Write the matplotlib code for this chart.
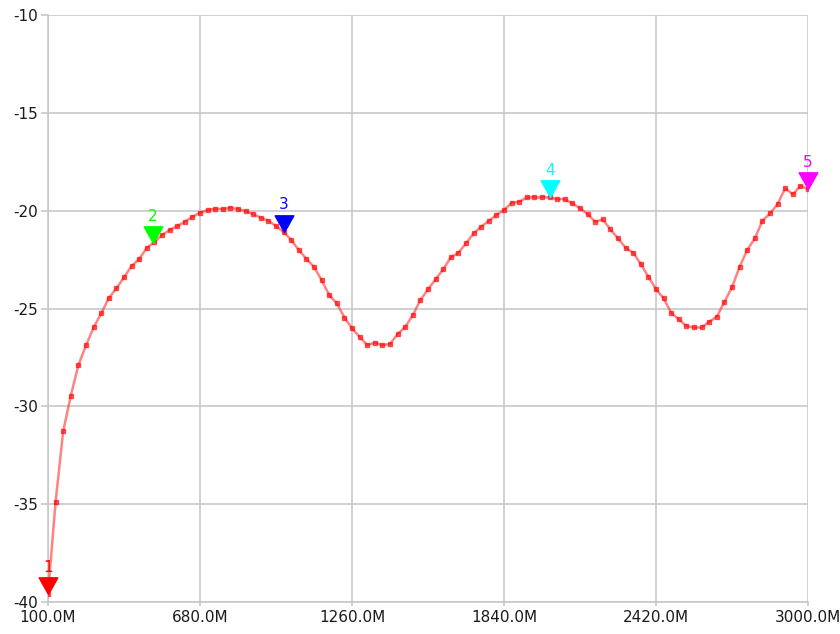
import numpy as np
import matplotlib
matplotlib.use("Agg")
import matplotlib.pyplot as plt
from matplotlib.path import Path

plt.rcParams['axes.unicode_minus'] = False
plt.rcParams['font.family'] = ['DejaVu Sans']

# frequency sweep, MHz (101 points, 100M .. 3000M)
freq_mhz = np.linspace(100, 3000, 101)

level_db = [
    -39.6, -34.88, -31.27, -29.46, -27.89, -26.89, -25.97, -25.25, -24.47, -23.97,
    -23.41, -22.83, -22.47, -21.90, -21.60, -21.25, -20.99, -20.79, -20.57, -20.31,
    -20.11, -19.97, -19.90, -19.92, -19.85, -19.92, -20.02, -20.17, -20.36, -20.52,
    -20.79, -21.08, -21.50, -22.01, -22.47, -22.87, -23.55, -24.31, -24.74, -25.46,
    -26.02, -26.45, -26.87, -26.75, -26.87, -26.82, -26.31, -25.94, -25.34, -24.57,
    -24.02, -23.51, -23.00, -22.39, -22.15, -21.67, -21.16, -20.82, -20.52, -20.22,
    -19.97, -19.60, -19.55, -19.32, -19.32, -19.32, -19.32, -19.41, -19.41, -19.63,
    -19.88, -20.17, -20.57, -20.45, -20.96, -21.42, -21.90, -22.15, -22.73, -23.38,
    -24.02, -24.48, -25.22, -25.56, -25.90, -25.97, -25.97, -25.68, -25.42, -24.66,
    -23.92, -22.87, -22.01, -21.42, -20.52, -20.14, -19.66, -18.86, -19.17, -18.73,
    -18.90,
]

# markers
marker_labels = ["1", "2", "3", "4", "5"]
marker_freq = [100, 500, 999, 2014, 3000]
marker_colors = ["#ff0000", "#00ff00", "#0000ff", "#00ffff", "#ff00ff"]

x_ticks = [100, 680, 1260, 1840, 2420, 3000]
x_tick_labels = ["100.0M", "680.0M", "1260.0M", "1840.0M", "2420.0M", "3000.0M"]
y_ticks = [-40, -35, -30, -25, -20, -15, -10]

fig = plt.figure(figsize=(8.4, 6.34), dpi=100)
ax = fig.add_axes([48 / 840, 1 - 602 / 634, 760 / 840, 587 / 634])

ax.plot(freq_mhz, level_db, color="#ff3030", alpha=0.6, lw=1.8,
        marker="s", ms=3, mec="#ff0000", mfc="#ff0000", zorder=3)

# downward triangle with its tip at the data point
tri = Path([(0, 0), (-0.56, 1), (0.56, 1), (0, 0)],
           [Path.MOVETO, Path.LINETO, Path.LINETO, Path.CLOSEPOLY])
for lab, f, c in zip(marker_labels, marker_freq, marker_colors):
    v = np.interp(f, freq_mhz, level_db)
    ax.plot([f], [v], marker=tri, ms=24, color=c, mec=c, lw=0, zorder=5,
            clip_on=False)
    ax.annotate(lab, (f, v), xytext=(0, 19.5), textcoords="offset points",
                ha="center", va="center", color=c, fontsize=11,
                annotation_clip=False, zorder=6)

ax.set_xlim(100, 3000)
ax.set_ylim(-40, -10)
ax.set_xticks(x_ticks)
ax.set_xticklabels(x_tick_labels)
ax.set_yticks(y_ticks)
ax.grid(True, color="#c8c8c8", lw=1.2)
ax.set_axisbelow(True)
for s in ax.spines.values():
    s.set_color("#c8c8c8")
    s.set_linewidth(1.2)
ax.spines["top"].set_visible(False)
ax.spines["right"].set_visible(False)
ax.tick_params(axis="both", colors="#c8c8c8", labelcolor="#1a1a1a",
               labelsize=11, width=1.2)
ax.tick_params(axis="y", length=5, pad=2)
ax.tick_params(axis="x", length=3, pad=3)

fig.savefig("out.png", dpi=100)
